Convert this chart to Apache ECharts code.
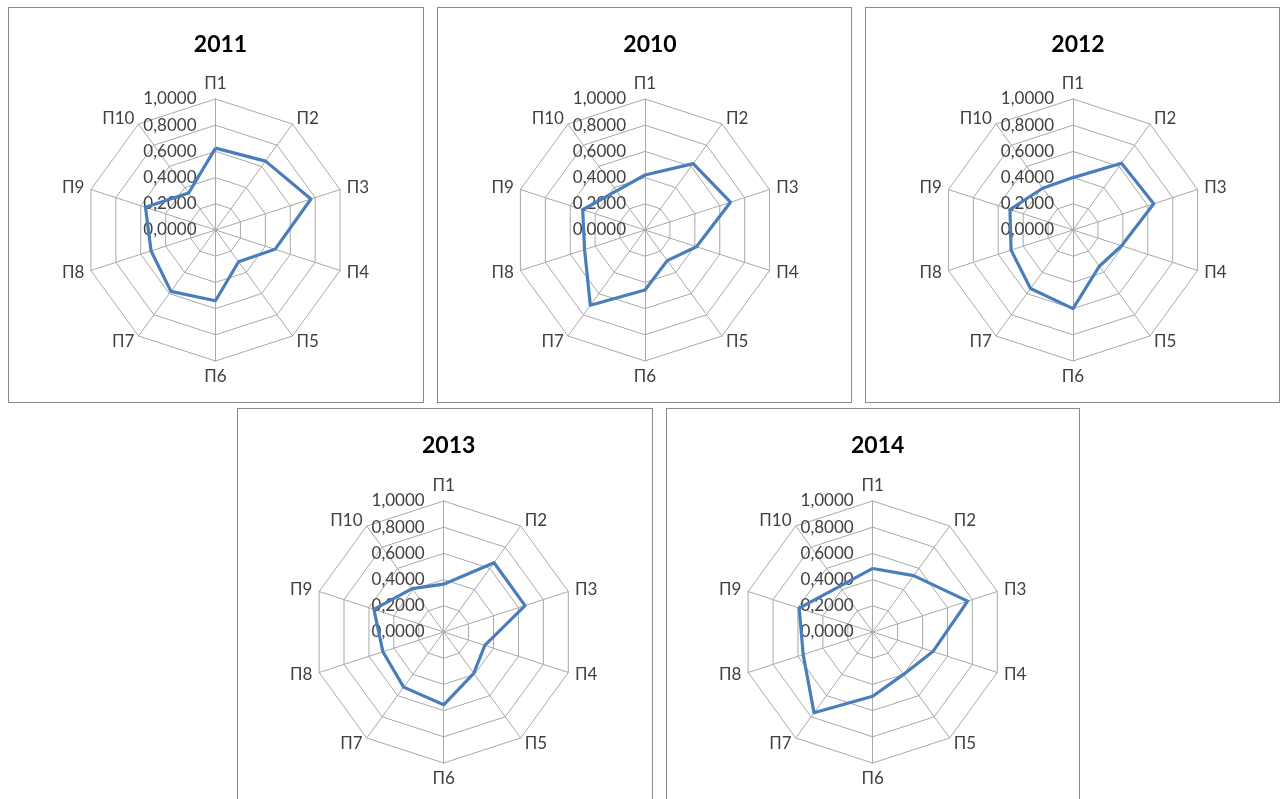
<!DOCTYPE html>
<html>
<head>
<meta charset="utf-8">
<script src="https://cdn.jsdelivr.net/npm/echarts@6/dist/echarts.min.js"></script>
<style>
  html, body { margin: 0; padding: 0; background: #fff; }
  #wrap { position: relative; width: 1281px; height: 799px; overflow: hidden; }
  .box { position: absolute; border: 1px solid #8a8a8a; box-sizing: border-box; }
  #chart { position: absolute; left: 0; top: 0; width: 1281px; height: 799px; }
</style>
</head>
<body>
<div id="wrap">
  <div class="box" style="left:8px;top:7px;width:416px;height:396px;"></div>
  <div class="box" style="left:437px;top:7px;width:415px;height:396px;"></div>
  <div class="box" style="left:865px;top:7px;width:415px;height:396px;"></div>
  <div class="box" style="left:237px;top:408px;width:416px;height:400px;"></div>
  <div class="box" style="left:666px;top:408px;width:414px;height:400px;"></div>
  <div id="chart"></div>
</div>
<script>
// Indicators (clockwise from top)
const indicators = ['П1', 'П2', 'П3', 'П4', 'П5', 'П6', 'П7', 'П8', 'П9', 'П10'];
const years = ['2011', '2010', '2012', '2013', '2014'];
const v2011 = [0.625, 0.650, 0.766, 0.478, 0.300, 0.540, 0.579, 0.517, 0.562, 0.349];
const v2010 = [0.420, 0.626, 0.686, 0.413, 0.289, 0.458, 0.710, 0.485, 0.500, 0.370];
const v2012 = [0.400, 0.630, 0.648, 0.390, 0.342, 0.600, 0.552, 0.497, 0.506, 0.394];
const v2013 = [0.365, 0.654, 0.653, 0.330, 0.390, 0.556, 0.520, 0.488, 0.560, 0.410];
const v2014 = [0.485, 0.532, 0.762, 0.483, 0.400, 0.490, 0.762, 0.558, 0.590, 0.430];
const axisMin = 0, axisMax = 1, axisSplits = 5;

const seriesValues = [v2011, v2010, v2012, v2013, v2014];
const centers = [[215.5, 230], [645, 230], [1073, 230], [443.7, 632], [872.7, 632]];
const titleTops = [28, 28, 28, 429, 429];

// ECharts lays indicators counter-clockwise; reorder so that they appear clockwise
const order = [0, 9, 8, 7, 6, 5, 4, 3, 2, 1];
const FONT = 'Lato, "Open Sans", sans-serif';

const radar = [], series = [], title = [];
seriesValues.forEach((vals, k) => {
  radar.push({
    center: centers[k],
    radius: 131,
    startAngle: 90,
    shape: 'polygon',
    splitNumber: axisSplits,
    axisName: { color: '#404040', fontSize: 17, fontFamily: FONT },
    nameGap: 7,
    splitLine: { lineStyle: { color: '#a8a8a8', width: 1 } },
    splitArea: { show: false },
    axisLine: { lineStyle: { color: '#a8a8a8', width: 1 } },
    axisTick: { show: false },
    axisLabel: { show: false },
    indicator: order.map((i, j) => {
      const ind = { name: indicators[i], min: axisMin, max: axisMax };
      if (j === 0) {
        ind.axisLabel = {
          show: true, color: '#404040', fontSize: 17, fontFamily: FONT, margin: 19,
          formatter: v => v.toFixed(4).replace('.', ',')
        };
      }
      return ind;
    })
  });
  series.push({
    type: 'radar',
    radarIndex: k,
    symbol: 'none',
    lineStyle: { color: '#4A7EBB', width: 3.2 },
    itemStyle: { color: '#4A7EBB' },
    data: [{ name: years[k], value: order.map(i => vals[i]) }]
  });
  title.push({
    text: years[k],
    left: centers[k][0],
    top: titleTops[k],
    textAlign: 'center',
    textStyle: { fontSize: 23, fontWeight: 'bold', color: '#000', fontFamily: FONT }
  });
});

const chart = echarts.init(document.getElementById('chart'), null, { renderer: 'canvas' });
chart.setOption({ animation: false, title, radar, series });
</script>
</body>
</html>
